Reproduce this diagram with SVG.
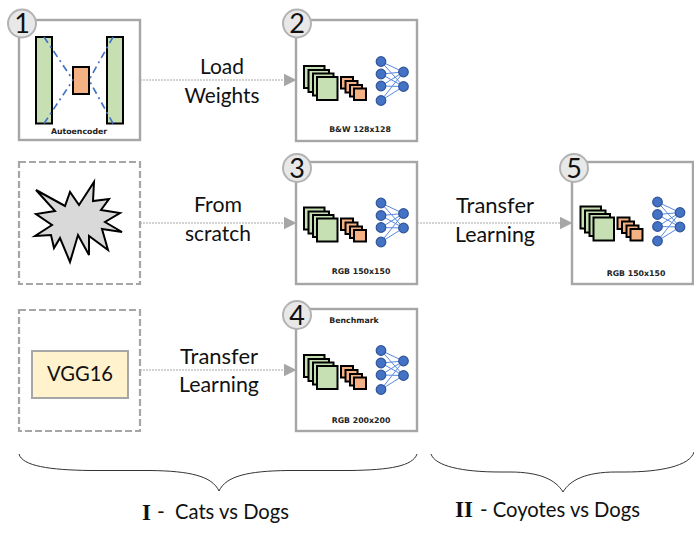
<svg xmlns="http://www.w3.org/2000/svg" xmlns:xlink="http://www.w3.org/1999/xlink" width="694" height="540" viewBox="0 0 694 540">
<style>
.box{fill:#fff;stroke:#a6a6a6;stroke-width:2.4}
.dash{fill:#fff;stroke:#a6a6a6;stroke-width:2.2;stroke-dasharray:7 3}
.badge{fill:#e8e8e8;stroke:#b3b3b3;stroke-width:2}
.num{font:27px Lato,"Liberation Sans",sans-serif;fill:#111;text-anchor:middle}
.lab{font:21.500px Lato,"Liberation Sans",sans-serif;fill:#111;text-anchor:middle}
.tiny{font:bold 7.800px "DejaVu Sans",sans-serif;fill:#222;text-anchor:middle}
.g{fill:#c6e0b4;stroke:#000;stroke-width:2}
.o{fill:#f4b183;stroke:#000;stroke-width:2}
.c{fill:#4472c4;stroke:#2f5597;stroke-width:1.2}
.e{stroke:#5b8ae0;stroke-width:1;fill:none}
.conn{stroke:#a6a6a6;stroke-width:1;stroke-dasharray:2 1;fill:none}
.ae{stroke:#4472c4;stroke-width:1.7;stroke-dasharray:7 4 2 4;fill:none}
.brace{stroke:#333;stroke-width:1;fill:none}
.big{font:21px Lato,"Liberation Sans",sans-serif;fill:#111}
.rom{font:bold 23px "Liberation Serif",serif;fill:#111}
</style>
<defs>
<marker id="arr" markerWidth="13" markerHeight="13" refX="12.500" refY="6.500" orient="auto" markerUnits="userSpaceOnUse"><path d="M0 0L13 6.500L0 13Z" fill="#a6a6a6"/></marker>
<g id="net">
<rect class="g" x="304" y="66" width="20.500" height="22"/>
<rect class="g" x="308.500" y="70" width="20.500" height="22"/>
<rect class="g" x="313" y="73.500" width="20.500" height="22"/>
<rect class="g" x="317" y="77" width="20.500" height="23"/>
<rect class="o" x="341" y="77" width="12" height="11.500"/>
<rect class="o" x="345.500" y="81" width="12" height="11.500"/>
<rect class="o" x="350" y="85" width="12" height="11.500"/>
<rect class="o" x="354" y="88.500" width="12" height="11.500"/>
<path class="e" d="M381 61.500L403.500 72M381 61.500L403.500 86.500M381 74L403.500 72M381 74L403.500 86.500M381 86L403.500 72M381 86L403.500 86.500M381 100.500L403.500 72M381 100.500L403.500 86.500"/>
<circle class="c" cx="381" cy="61.500" r="4.800"/>
<circle class="c" cx="381" cy="74" r="4.800"/>
<circle class="c" cx="381" cy="86" r="4.800"/>
<circle class="c" cx="381" cy="100.500" r="4.800"/>
<circle class="c" cx="403.500" cy="72" r="4.800"/>
<circle class="c" cx="403.500" cy="86.500" r="4.800"/>
</g>
</defs>
<g id="connectors">
<path class="conn" d="M140 80H296" marker-end="url(#arr)"/>
<path class="conn" d="M140 223H296" marker-end="url(#arr)"/>
<path class="conn" d="M417 223H572" marker-end="url(#arr)"/>
<path class="conn" d="M140 370H296" marker-end="url(#arr)"/>
</g>
<g id="node1">
<rect class="box" x="19" y="20" width="121" height="120"/>
<rect class="g" x="36" y="37" width="16" height="86.500"/>
<rect class="g" x="107" y="37" width="16" height="86.500"/>
<rect class="o" x="73" y="67" width="16" height="27"/>
<path class="ae" d="M44 37L73 80M44 123.500L73 80M113 37L89 80M113 123.500L89 80"/>
<text class="tiny" x="79" y="134">Autoencoder</text>
<circle class="badge" cx="22" cy="23.500" r="14"/>
<text class="num" x="22" y="33">1</text>
</g>
<g id="node2">
<rect class="box" x="296" y="20" width="121" height="121"/>
<use href="#net"/>
<text class="tiny" x="360" y="132">B&amp;W 128x128</text>
<circle class="badge" cx="297" cy="23.500" r="14"/>
<text class="num" x="297" y="33">2</text>
</g>
<g id="node-burst">
<rect class="dash" x="19" y="162" width="121" height="122"/>
<path d="M36 190L65 206L70 192L79 205L94 182L93 201L109 199L101 210L120 213L105 222L122 232L102 229L108 250L89 236L89 255L78 235L70 262L60 238L54 248L51 235L35 236L52 225L36 214L55 211Z" fill="#d9d9d9" stroke="#000" stroke-width="2"/>
</g>
<g id="node3">
<rect class="box" x="296" y="162" width="121" height="122"/>
<use href="#net" transform="translate(0 141.500)"/>
<text class="tiny" x="361" y="274">RGB 150x150</text>
<circle class="badge" cx="297" cy="168" r="14"/>
<text class="num" x="297" y="177.500">3</text>
</g>
<g id="node5">
<rect class="box" x="572" y="162" width="121" height="122"/>
<use href="#net" transform="translate(276.500 140.500)"/>
<text class="tiny" x="636" y="276">RGB 150x150</text>
<circle class="badge" cx="574" cy="168" r="14"/>
<text class="num" x="574" y="177.500">5</text>
</g>
<g id="node-vgg">
<rect class="dash" x="19" y="310" width="121" height="121"/>
<rect x="32" y="351" width="96" height="47" fill="#fff2cc" stroke="#a6a6a6" stroke-width="2"/>
<text class="lab" x="80" y="381" textLength="66" lengthAdjust="spacingAndGlyphs">VGG16</text>
</g>
<g id="node4">
<rect class="box" x="296" y="309" width="121" height="122"/>
<use href="#net" transform="translate(0 289)"/>
<text class="tiny" x="354" y="323">Benchmark</text>
<text class="tiny" x="361" y="423">RGB 200x200</text>
<circle class="badge" cx="297" cy="315" r="14"/>
<text class="num" x="297" y="324.500">4</text>
</g>
<g id="labels">
<text class="lab" x="222" y="74" textLength="44" lengthAdjust="spacingAndGlyphs">Load</text>
<text class="lab" x="222" y="103" textLength="75" lengthAdjust="spacingAndGlyphs">Weights</text>
<text class="lab" x="218" y="212" textLength="48" lengthAdjust="spacingAndGlyphs">From</text>
<text class="lab" x="218" y="241" textLength="66" lengthAdjust="spacingAndGlyphs">scratch</text>
<text class="lab" x="495" y="213" textLength="78" lengthAdjust="spacingAndGlyphs">Transfer</text>
<text class="lab" x="495" y="242" textLength="80" lengthAdjust="spacingAndGlyphs">Learning</text>
<text class="lab" x="219" y="364" textLength="78" lengthAdjust="spacingAndGlyphs">Transfer</text>
<text class="lab" x="219" y="392" textLength="80" lengthAdjust="spacingAndGlyphs">Learning</text>
</g>
<g id="braces">
<path class="brace" d="M19 454C22 466 50 470 90 470.500H150C190 471 212 476 219 491C226 476 248 471 288 470.500H350C390 470 413 466 417 454"/>
<path class="brace" d="M431 454C435 466 462 472 500 472H510C540 472 556 480 563 492C570 480 586 472 616 472H625C660 472 690 466 694 452"/>
<text class="rom" x="142" y="520">I</text>
<text class="big" x="157" y="519">-</text>
<text class="big" x="175" y="519" textLength="114" lengthAdjust="spacingAndGlyphs">Cats vs Dogs</text>
<text class="rom" x="455" y="517">II</text>
<text class="big" x="480" y="517" textLength="160" lengthAdjust="spacingAndGlyphs">- Coyotes vs Dogs</text>
</g>
</svg>
